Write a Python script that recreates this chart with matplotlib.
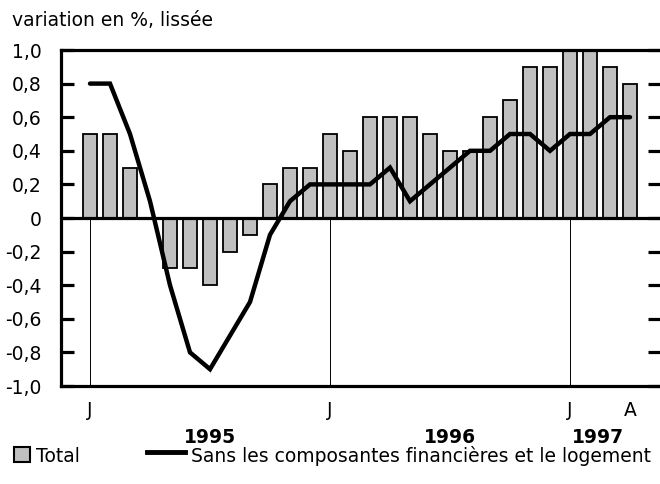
import numpy as np
import matplotlib
matplotlib.use('Agg')
import matplotlib.pyplot as plt
from matplotlib.patches import Rectangle
from matplotlib.lines import Line2D
from matplotlib.ticker import FixedLocator, FuncFormatter

plt.rcParams['font.family'] = ['DejaVu Sans']

# months from Dec 1994 (index -1) to Apr 1997 (index 27), Jan 1995 = 0
total = [0.0,
         0.5, 0.5, 0.3, 0.0, -0.3, -0.3, -0.4, -0.2, -0.1, 0.2, 0.3, 0.3,
         0.5, 0.4, 0.6, 0.6, 0.6, 0.5, 0.4, 0.4, 0.6, 0.7, 0.9, 0.9,
         1.0, 1.0, 0.9, 0.8]
# smoothed line, Jan 1995 to Apr 1997
core = [0.8, 0.8, 0.5, 0.1, -0.4, -0.8, -0.9, -0.7, -0.5, -0.1, 0.1, 0.2,
        0.2, 0.2, 0.2, 0.3, 0.1, 0.2, 0.3, 0.4, 0.4, 0.5, 0.5, 0.4,
        0.5, 0.5, 0.6, 0.6]
month_ticks = [0, 12, 24, 27]
month_labels = ['J', 'J', 'J', 'A']
years = ['1995', '1996', '1997']
year_pos = [6, 18, 25.4]
yticks = [-1.0, -0.8, -0.6, -0.4, -0.2, 0.0, 0.2, 0.4, 0.6, 0.8, 1.0]

fs = 13.5

fig = plt.figure(figsize=(6.6, 4.84), dpi=100)
ax = fig.add_axes([61 / 660, 1 - 386 / 484, 1 - 61 / 660, 336 / 484])

xb = np.arange(len(total)) - 1
xl = np.arange(len(core))

ax.bar(xb, total, width=0.7, color='#c0c0c0', edgecolor='black', linewidth=1.3, zorder=2)
ax.vlines(month_ticks[:3], -1.0, 0.0, color='black', linewidth=0.7, zorder=1)
ax.axhline(0, color='black', linewidth=2.3, zorder=3)
ax.plot(xl, core, color='black', linewidth=3.2, solid_capstyle='round',
        solid_joinstyle='miter', zorder=4)

ax.set_xlim(-1.45, 28.5)
ax.set_ylim(-1.0, 1.0)

for s in ['top', 'bottom', 'left']:
    ax.spines[s].set_linewidth(2.3)
ax.spines['right'].set_visible(False)

ax.yaxis.set_major_locator(FixedLocator(yticks))
ax.yaxis.set_major_formatter(FuncFormatter(
    lambda v, p: '0' if abs(v) < 1e-9 else f'{v:.1f}'.replace('.', ',')))
ax.tick_params(axis='y', direction='in', length=9, width=2.3, labelsize=fs,
               left=True, right=True, pad=14)

ax.set_xticks(month_ticks)
ax.set_xticklabels(month_labels)
ax.tick_params(axis='x', length=0, labelsize=fs, pad=11)

trans = ax.get_xaxis_transform()
for y, p in zip(years, year_pos):
    ax.text(p, -0.152, y, transform=trans, ha='center', va='center',
            fontsize=fs, fontweight='bold')

fig.text(12 / 660, 1 - 20 / 484, 'variation en %, lissée', fontsize=fs,
         ha='left', va='center')

# legend
fig.patches.append(Rectangle((14 / 660, 1 - 462 / 484), 16 / 660, 15 / 484,
                             transform=fig.transFigure, facecolor='#c0c0c0',
                             edgecolor='black', linewidth=1.5))
fig.text(36 / 660, 1 - 456 / 484, 'Total', fontsize=fs, ha='left', va='center')
fig.lines.append(Line2D([147 / 660, 185 / 660], [1 - 452 / 484, 1 - 452 / 484],
                        transform=fig.transFigure, color='black', linewidth=3.5))
fig.text(191 / 660, 1 - 456 / 484, 'Sans les composantes financières et le logement',
         fontsize=fs, ha='left', va='center')

fig.savefig('out.png', dpi=100)
